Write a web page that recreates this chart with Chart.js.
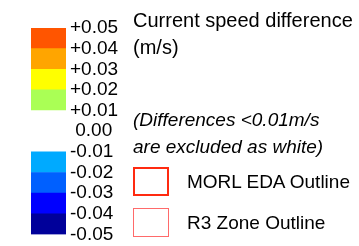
<!DOCTYPE html>
<html>
<head>
<meta charset="utf-8">
<script src="https://cdn.jsdelivr.net/npm/chart.js@4/dist/chart.umd.min.js"></script>
<style>
  html, body { margin: 0; padding: 0; background: #fff; }
  #wrap { position: relative; width: 359px; height: 246px; overflow: hidden; }
  #wrap canvas { position: absolute; left: 0; top: 0; }
  .txt { position: absolute; font-family: "Liberation Sans", Arial, sans-serif; font-size: 19px; color: #000; white-space: nowrap; line-height: 27px; }
  .head { font-size: 20px; }
  .it { font-style: italic; }
  .box { position: absolute; box-sizing: border-box; }
</style>
</head>
<body>
<div id="wrap">
  <canvas id="scaleChart" width="359" height="246"></canvas>
  <div class="txt head" style="left:133px; top:7px;">Current speed difference<br>(m/s)</div>
  <div class="txt it" style="left:133px; top:106px;">(Differences &lt;0.01m/s<br>are excluded as white)</div>
  <div class="box" style="left:133px; top:167px; width:36px; height:29px; border:2.5px solid #ff2a10;"></div>
  <div class="txt" style="left:187px; top:168px;">MORL EDA Outline</div>
  <div class="box" style="left:133px; top:208px; width:36px; height:29px; border:1px solid #ff6a6a;"></div>
  <div class="txt" style="left:187px; top:209px;">R3 Zone Outline</div>
</div>
<script>
// bins of the colour scale, bottom to top
var binLow  = [-0.05, -0.04, -0.03, -0.02, -0.01, 0.00, 0.01, 0.02, 0.03, 0.04];
var binHigh = [-0.04, -0.03, -0.02, -0.01,  0.00, 0.01, 0.02, 0.03, 0.04, 0.05];
var binColors = ['#00009a', '#0000ff', '#0060ff', '#00aaff', '#ffffff',
                 '#ffffff', '#aaff55', '#ffff00', '#ffa500', '#ff5500'];
var tickValues = [0.05, 0.04, 0.03, 0.02, 0.01, 0.00, -0.01, -0.02, -0.03, -0.04, -0.05];
var tickLabels = ['+0.05', '+0.04', '+0.03', '+0.02', '+0.01', ' 0.00',
                  '-0.01', '-0.02', '-0.03', '-0.04', '-0.05'];

var datasets = binLow.map(function (lo, i) {
    return {
        data: [[lo, binHigh[i]]],
        backgroundColor: binColors[i],
        borderWidth: 0,
        grouped: false,
        barPercentage: 1,
        categoryPercentage: 1
    };
});

var ctx = document.getElementById('scaleChart').getContext('2d');
new Chart(ctx, {
    type: 'bar',
    data: { labels: [''], datasets: datasets },
    options: {
        responsive: false,
        animation: false,
        layout: { padding: { left: 31, top: 28, bottom: 8, right: 0 } },
        plugins: { legend: { display: false }, tooltip: { enabled: false } },
        scales: {
            x: { display: false },
            y: {
                position: 'right',
                min: -0.05,
                max: 0.05,
                grid: { display: false, drawTicks: false },
                border: { display: false },
                afterBuildTicks: function (scale) {
                    scale.ticks = tickValues.map(function (v) { return { value: v }; });
                },
                afterFit: function (scale) { scale.width = 293; },
                ticks: {
                    padding: 4,
                    color: '#000',
                    font: { family: 'Liberation Sans', size: 19, lineHeight: 0.8 },
                    callback: function (value, index) { return tickLabels[index]; }
                }
            }
        }
    }
});
</script>
</body>
</html>
